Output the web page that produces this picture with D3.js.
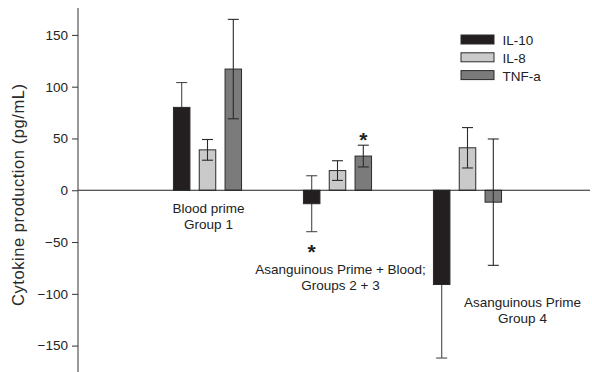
<!DOCTYPE html>
<html>
<head>
<meta charset="utf-8">
<script src="https://cdn.jsdelivr.net/npm/d3@7"></script>
<style>
  html, body { margin: 0; padding: 0; background: #fff; }
  svg { display: block; font-family: "Liberation Sans", Arial, sans-serif; }
</style>
</head>
<body>
<svg id="chart" width="592" height="372"></svg>
<script>
// Cytokine production by priming group
const groups = ["Group 1", "Groups 2 + 3", "Group 4"];
const series = ["IL-10", "IL-8", "TNF-a"];
const il10 = [80, -13, -91];
const il8 = [39, 19, 41];
const tnf = [117, 33, -11.5];
const il10Err = [24, 27, 71];
const il8Err = [10, 9.5, 19.5];
const tnfErr = [48, 10.5, 61];
const groupLabels = [
  ["Blood prime", "Group 1"],
  ["Asanguinous Prime + Blood;", "Groups 2 + 3"],
  ["Asanguinous Prime", "Group 4"]
];
// significance markers: [group index, series index, side]
const stars = [[1, 0, "below"], [1, 2, "above"]];
const yTicks = [-150, -100, -50, 0, 50, 100, 150];

const values = [il10, il8, tnf];
const errors = [il10Err, il8Err, tnfErr];
const fills = { "IL-10": "#231f20", "IL-8": "#cacaca", "TNF-a": "#7b7b7b" };
const whisker = { "IL-10": "#4a4a4a", "IL-8": "#2a2a2a", "TNF-a": "#2a2a2a" };

const svg = d3.select("#chart");

const y = d3.scaleLinear().domain([-175, 175]).range([371.5, 9]);
const xGroup = d3.scalePoint().domain(groups).range([207.5, 467.5]);
const xSeries = d3.scalePoint().domain(series).range([-25.8, 25.8]);
const barW = 16.5;
const capW = 11;

const data = [];
groups.forEach((g, gi) => {
  series.forEach((s, si) => {
    data.push({ g, s, gi, si, v: values[si][gi], e: errors[si][gi] });
  });
});
const cx = d => xGroup(d.g) + xSeries(d.s);

function drawErrors(layer, rows) {
  const g = layer.append("g").attr("stroke-width", 1.1).attr("fill", "none");
  rows.forEach(d => {
    const c = whisker[d.s];
    const hi = y(d.v + d.e), lo = y(d.v - d.e);
    g.append("line").attr("x1", cx(d)).attr("x2", cx(d)).attr("y1", hi).attr("y2", lo).attr("stroke", c);
    [hi, lo].forEach(yy => {
      g.append("line")
        .attr("x1", cx(d) - capW / 2).attr("x2", cx(d) + capW / 2)
        .attr("y1", yy).attr("y2", yy).attr("stroke", c);
    });
  });
}

// dark bars sit over their own whiskers
drawErrors(svg, data.filter(d => d.s === "IL-10"));

// bars
svg.append("g").selectAll("rect").data(data).join("rect")
  .attr("x", d => cx(d) - barW / 2)
  .attr("y", d => y(Math.max(0, d.v)))
  .attr("width", barW)
  .attr("height", d => Math.abs(y(d.v) - y(0)))
  .attr("fill", d => fills[d.s])
  .attr("stroke", "#2a2a2a")
  .attr("stroke-width", 1);

drawErrors(svg, data.filter(d => d.s !== "IL-10"));

// zero baseline
svg.append("line")
  .attr("x1", 78).attr("x2", 590)
  .attr("y1", y(0)).attr("y2", y(0))
  .attr("stroke", "#222").attr("stroke-width", 1.1);

// y axis
const yAxis = d3.axisLeft(y).tickValues(yTicks).tickSize(6).tickPadding(4)
  .tickFormat(d3.format("d"));
const ag = svg.append("g").attr("transform", "translate(78,0)").call(yAxis);
ag.select(".domain").attr("d", `M0,8V372`).attr("stroke", "#333");
ag.selectAll(".tick line").attr("stroke", "#333");
ag.selectAll(".tick text").attr("font-size", 13.5).attr("fill", "#222")
  .attr("font-family", "Liberation Sans, Arial, sans-serif");

svg.append("text")
  .attr("transform", `translate(24,195) rotate(-90)`)
  .attr("text-anchor", "middle")
  .attr("font-size", 16.5)
  .attr("fill", "#2a2a2a")
  .attr("textLength", 222)
  .text("Cytokine production (pg/mL)");

// group labels
const labelPos = [
  { dx: 1, v: -22 },
  { dx: 3, v: -81 },
  { dx: 55, v: -113 }
];
groupLabels.forEach((lines, gi) => {
  const t = svg.append("text")
    .attr("text-anchor", "middle")
    .attr("font-size", 13.5)
    .attr("fill", "#222");
  lines.forEach((ln, li) => {
    t.append("tspan")
      .attr("x", xGroup(groups[gi]) + labelPos[gi].dx)
      .attr("y", y(labelPos[gi].v) + li * 15.5)
      .text(ln);
  });
});

// significance asterisks
stars.forEach(([gi, si, side]) => {
  const d = data.find(o => o.gi === gi && o.si === si);
  const base = side === "above" ? y(d.v + d.e) + 2 : y(d.v - d.e) + 27;
  svg.append("text")
    .attr("x", cx(d)).attr("y", base)
    .attr("text-anchor", "middle")
    .attr("font-size", 21).attr("font-weight", "bold")
    .attr("fill", "#222")
    .text("*");
});

// legend
const lg = svg.append("g").attr("transform", "translate(461,35)");
series.forEach((s, i) => {
  const row = lg.append("g").attr("transform", `translate(0,${i * 17.8})`);
  row.append("rect").attr("width", 33).attr("height", 9)
    .attr("fill", fills[s]).attr("stroke", "#2a2a2a").attr("stroke-width", 1);
  row.append("text").attr("x", 41.5).attr("y", 10)
    .attr("font-size", 13.5).attr("fill", "#222").text(s);
});
</script>
</body>
</html>
